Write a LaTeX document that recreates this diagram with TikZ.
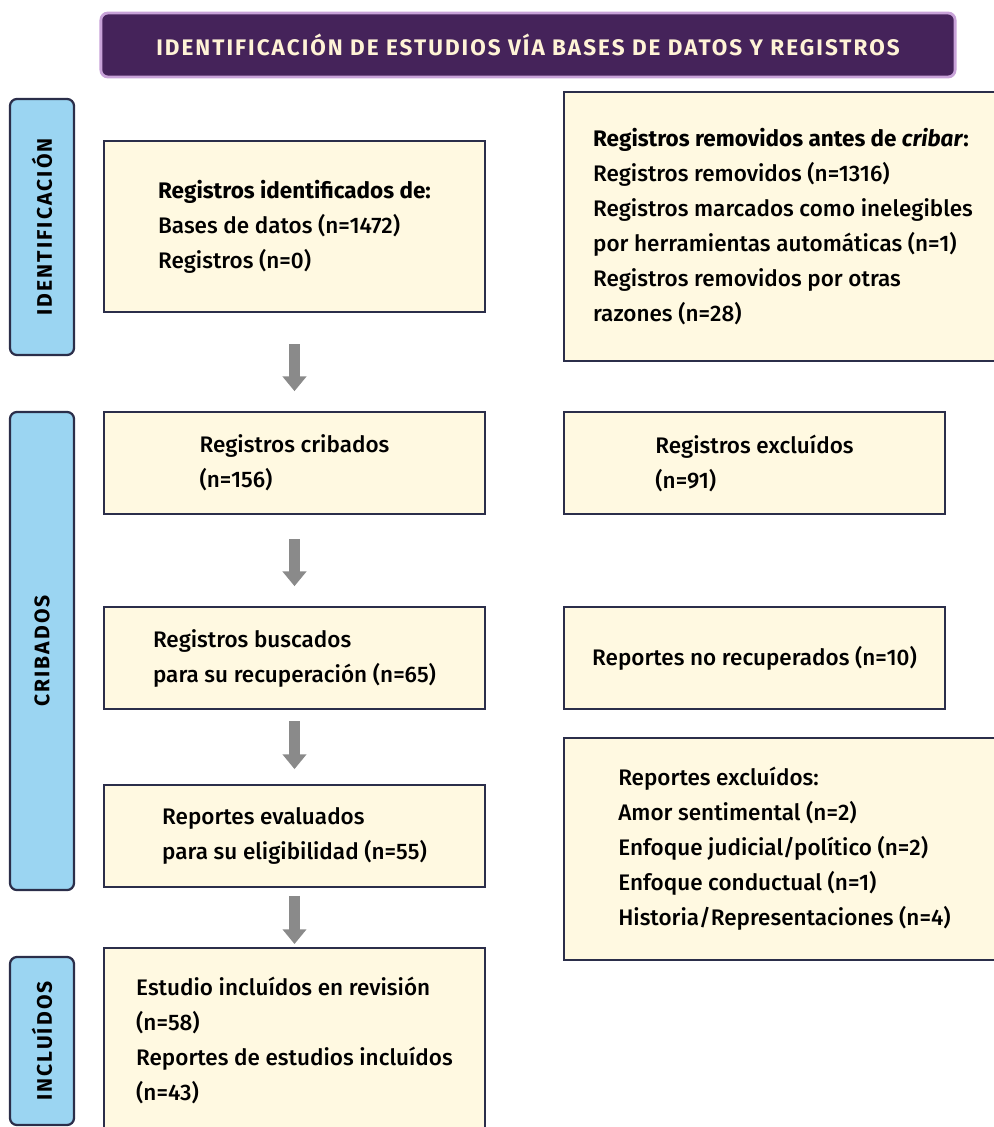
\documentclass[tikz,border=0pt]{standalone}
\usepackage{fontspec}
\setmainfont{Fira Sans}[UprightFont=* Medium, BoldFont=* Bold, ItalicFont=* Medium Italic, BoldItalicFont=* Bold Italic]
\newfontfamily\titulofont{Fira Sans}[UprightFont=* Bold, LetterSpace=9]
\newfontfamily\ladofont{Fira Sans}[UprightFont=* Bold, LetterSpace=10]
\usetikzlibrary{arrows.meta}
\definecolor{morado}{HTML}{45235A}
\definecolor{lila}{HTML}{C8A2D8}
\definecolor{cremaclara}{HTML}{FFF3D6}
\definecolor{celeste}{HTML}{9BD5F2}
\definecolor{borde}{HTML}{2B2E4A}
\definecolor{crema}{HTML}{FFF9E1}
\definecolor{gris}{HTML}{8A8A8A}
\tikzset{
	caja/.style={draw=borde, fill=crema, line width=1.6pt, minimum width=9.525cm,
		minimum height=2.55cm, align=left, inner sep=0pt,
		font=\fontsize{16}{24.9}\selectfont},
	lado/.style={draw=borde, fill=celeste, line width=1.6pt, rounded corners=5pt,
		rotate=90, minimum height=1.6cm, inner sep=0pt,
		font=\ladofont\fontsize{15}{18}\selectfont},
	flecha/.style={draw=gris, line width=7.8pt, -{Triangle[width=16.5pt,length=10.5pt]}}
}
\begin{document}
\begin{tikzpicture}[x=0.025cm,y=-0.025cm]
	\useasboundingbox (0,0) rectangle (994,1127);
	% encabezado
	\node[draw=lila, fill=morado, line width=2pt, rounded corners=5pt, minimum width=21.35cm,
		minimum height=1.6cm, text=cremaclara, font=\titulofont\fontsize{16}{20}\selectfont]
		(titulo) at (528,45) {IDENTIFICACIÓN DE ESTUDIOS VÍA BASES DE DATOS Y REGISTROS};
	% fases
	\node[lado, minimum width=6.4cm] (fase1) at (42,227) {IDENTIFICACIÓN};
	\node[lado, minimum width=11.95cm] (fase2) at (42,651) {CRIBADOS};
	\node[lado, minimum width=4.2cm] (fase3) at (42,1041) {INCLUÍDOS};
	% columna izquierda
	\node[caja, minimum height=4.275cm] (ident) at (294.5,226.5)
		{\textbf{Registros identificados de:}\\Bases de datos (n=1472)\\Registros (n=0)};
	\node[caja] (cribados) at (294.5,463) {Registros cribados\\(n=156)};
	\node[caja] (buscados) at (294.5,658) {Registros buscados\\para su recuperación (n=65)};
	\node[caja] (evaluados) at (294.5,836) {Reportes evaluados\\para su eligibilidad (n=55)};
	\node[caja, minimum height=4.625cm] (incluidos) at (294.5,1040.5)
		{Estudio incluídos en revisión\\(n=58)\\Reportes de estudios incluídos\\(n=43)};
	% columna derecha
	\node[caja, minimum width=10.95cm, minimum height=6.725cm] (removidos) at (783,226.5)
		{\textbf{Registros removidos antes de \textit{cribar}:}\\Registros removidos (n=1316)\\
		Registros marcados como inelegibles\\por herramientas automáticas (n=1)\\
		Registros removidos por otras\\razones (n=28)};
	\node[caja] (excluidos) at (754.5,463) {Registros excluídos\\(n=91)};
	\node[caja] (norecup) at (754.5,658) {Reportes no recuperados (n=10)};
	\node[caja, minimum width=11.025cm, minimum height=5.55cm] (repexcl) at (784.5,849)
		{Reportes excluídos:\\Amor sentimental (n=2)\\Enfoque judicial/político (n=2)\\
		Enfoque conductual (n=1)\\Historia/Representaciones (n=4)};
	% flechas
	\draw[flecha, shorten <=22pt, shorten >=14pt] (ident) -- (cribados);
	\draw[flecha, shorten <=17pt, shorten >=14pt] (cribados) -- (buscados);
	\draw[flecha, shorten <=8pt, shorten >=10.5pt] (buscados) -- (evaluados);
	\draw[flecha, shorten <=5.5pt, shorten >=2pt] (evaluados) -- (incluidos);
\end{tikzpicture}
\end{document}
